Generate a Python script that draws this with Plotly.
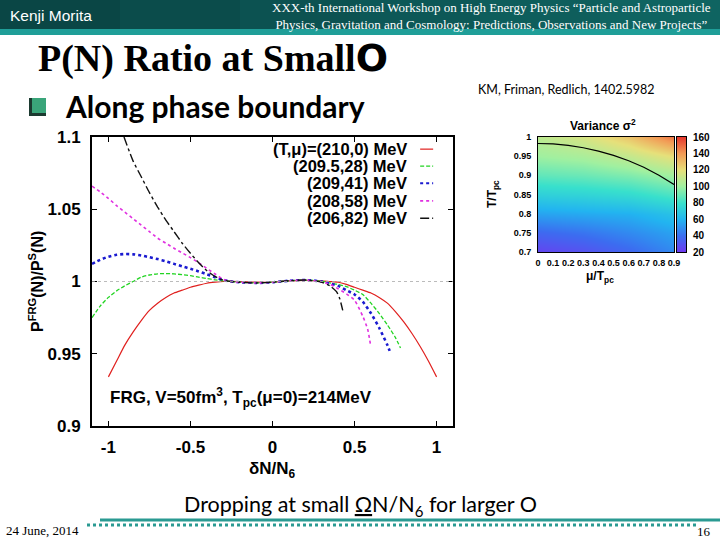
import plotly.graph_objects as go

# ---------------- data: main chart ----------------
red_x = [-1.0, -0.95, -0.9, -0.85, -0.8, -0.75, -0.7, -0.65, -0.6, -0.55, -0.5, -0.45, -0.4, -0.35, -0.3,
         -0.2, -0.1, 0.0, 0.1, 0.2, 0.3, 0.35, 0.4, 0.45, 0.5, 0.55, 0.6, 0.65, 0.7, 0.75, 0.8, 0.85, 0.9, 0.95, 1.0]
red_y = [0.934, 0.945, 0.956, 0.965, 0.973, 0.980, 0.985, 0.989, 0.992, 0.994, 0.996, 0.9975, 0.9988, 0.9995, 1.0,
         1.0, 0.9995, 0.9995, 1.0005, 1.0008, 1.0005, 1.0, 0.9995, 0.998, 0.996, 0.994, 0.992, 0.989, 0.985, 0.979,
         0.972, 0.964, 0.955, 0.945, 0.934]

green_x = [-1.1, -1.05, -1.0, -0.95, -0.9, -0.85, -0.8, -0.75, -0.7, -0.65, -0.6, -0.55, -0.5, -0.45, -0.4, -0.35,
           -0.3, -0.25, -0.2, -0.1, 0.0, 0.1, 0.2, 0.3, 0.35, 0.4, 0.45, 0.5, 0.55, 0.6, 0.65, 0.7, 0.75, 0.78]
green_y = [0.975, 0.983, 0.989, 0.9935, 0.997, 1.0, 1.003, 1.0045, 1.0053, 1.0055, 1.0053, 1.0047, 1.004, 1.003,
           1.002, 1.0012, 1.0005, 1.0, 0.9995, 0.999, 0.9995, 1.0005, 1.001, 1.0003, 0.999, 0.998, 0.9965, 0.994,
           0.991, 0.985, 0.978, 0.970, 0.961, 0.954]

blue_x = [-1.1, -1.05, -1.0, -0.95, -0.9, -0.85, -0.8, -0.75, -0.7, -0.65, -0.6, -0.55, -0.5, -0.45, -0.4, -0.35,
          -0.3, -0.25, -0.2, -0.1, 0.0, 0.1, 0.2, 0.3, 0.35, 0.4, 0.45, 0.5, 0.55, 0.6, 0.65, 0.7, 0.714]
blue_y = [1.0122, 1.015, 1.0172, 1.0185, 1.019, 1.0188, 1.018, 1.0168, 1.0155, 1.014, 1.0122, 1.0105, 1.0088,
          1.007, 1.005, 1.003, 1.001, 1.0, 0.9995, 0.999, 0.9995, 1.0005, 1.001, 1.0, 0.9985, 0.997, 0.994, 0.991,
          0.986, 0.978, 0.968, 0.956, 0.952]

magenta_x = [-1.1, -1.05, -1.0, -0.95, -0.9, -0.85, -0.8, -0.75, -0.7, -0.65, -0.6, -0.55, -0.5, -0.45, -0.4,
             -0.35, -0.3, -0.25, -0.2, -0.1, 0.0, 0.1, 0.2, 0.3, 0.35, 0.4, 0.45, 0.5, 0.55, 0.58, 0.596]
magenta_y = [1.066, 1.062, 1.0575, 1.0525, 1.048, 1.0435, 1.039, 1.0345, 1.030, 1.0265, 1.023, 1.0198, 1.0165,
             1.013, 1.009, 1.0052, 1.0015, 1.0, 0.9995, 0.999, 0.9995, 1.0005, 1.001, 0.9998, 0.998, 0.995, 0.9915,
             0.987, 0.976, 0.967, 0.957]

black_x = [-0.905, -0.85, -0.8, -0.75, -0.7, -0.65, -0.6, -0.55, -0.5, -0.45, -0.4, -0.35, -0.3, -0.25, -0.2,
           -0.1, 0.0, 0.1, 0.2, 0.3, 0.35, 0.39, 0.41, 0.428]
black_y = [1.1, 1.0835, 1.0725, 1.0615, 1.0515, 1.0425, 1.0345, 1.0265, 1.0195, 1.013, 1.0075, 1.0035, 1.001,
           1.0, 0.9995, 0.999, 0.9995, 1.0005, 1.001, 0.9995, 0.997, 0.993, 0.988, 0.980]

series_labels = ["(T,\u03bc)=(210,0) MeV", "(209.5,28) MeV", "(209,41) MeV", "(208,58) MeV", "(206,82) MeV"]

x_tickvals = [-1, -0.5, 0, 0.5, 1]
x_ticktext = ["-1", "-0.5", "0", "0.5", "1"]
y_tickvals = [0.9, 0.95, 1.0, 1.05, 1.1]
y_ticktext = ["0.9", "0.95", "1", "1.05", "1.1"]

# ---------------- data: inset heatmap ----------------
mu_grid = [0.0, 0.3, 0.6, 0.9]
t_grid = [0.70, 0.75, 0.80, 0.85, 0.90, 0.95, 1.00]
variance = [
    [25, 30, 38, 48],
    [38, 42, 48, 55],
    [55, 57, 59, 66],
    [72, 74, 77, 84],
    [88, 90, 94, 101],
    [100, 103, 110, 121],
    [108, 115, 128, 148],
]
boundary_mu = [0.0, 0.1, 0.2, 0.3, 0.4, 0.5, 0.6, 0.7, 0.8, 0.9]
boundary_t = [0.983, 0.982, 0.978, 0.972, 0.963, 0.952, 0.938, 0.921, 0.900, 0.876]
inset_xticks = [0, 0.1, 0.2, 0.3, 0.4, 0.5, 0.6, 0.7, 0.8, 0.9]
inset_yticks = [0.7, 0.75, 0.8, 0.85, 0.9, 0.95, 1.0]
inset_yticktext = ["0.7", "0.75", "0.8", "0.85", "0.9", "0.95", "1"]
cbar_levels = [20, 40, 60, 80, 100, 120, 140, 160]

# ---------------- styles ----------------
SANS = "Liberation Sans, Arial, sans-serif"
SERIF = "Liberation Serif, Times New Roman, serif"
CAL = "Lato, Open Sans, sans-serif"
styles = [
    dict(color="#e0201e", width=1.2, dash="solid"),
    dict(color="#22d422", width=1.3, dash="4px,2px"),
    dict(color="#1a1ad0", width=2.6, dash="dot"),
    dict(color="#e030e0", width=1.6, dash="dot"),
    dict(color="#111111", width=1.4, dash="dashdot"),
]
rainbow = [[0.0, "#7038f0"], [1 / 7, "#3c6cf0"], [2 / 7, "#22b4f0"], [3 / 7, "#38e0cc"],
           [4 / 7, "#a0f0a0"], [5 / 7, "#e6e07a"], [6 / 7, "#f29a55"], [1.0, "#e63a2e"]]

fig = go.Figure()
for (xs, ys), st, lab in zip([(red_x, red_y), (green_x, green_y), (blue_x, blue_y),
                              (magenta_x, magenta_y), (black_x, black_y)], styles, series_labels):
    fig.add_trace(go.Scatter(x=xs, y=ys, mode="lines", line=dict(shape="spline", smoothing=0.6, **st),
                             name=lab, showlegend=False, xaxis="x", yaxis="y"))

# inset heatmap
fig.add_trace(go.Heatmap(x=mu_grid, y=t_grid, z=variance, zsmooth="best", zmin=20, zmax=160,
                         xaxis="x2", yaxis="y2", colorscale=rainbow, showscale=False))
fig.add_trace(go.Scatter(x=boundary_mu, y=boundary_t, mode="lines", line=dict(color="black", width=1.2),
                         showlegend=False, xaxis="x2", yaxis="y2"))
# colour bar drawn as its own small heatmap
fig.add_trace(go.Heatmap(x=[0], y=cbar_levels, z=[[v] for v in cbar_levels], zsmooth="best", zmin=20,
                         zmax=160, xaxis="x3", yaxis="y3", colorscale=rainbow, showscale=False))

X0, X1 = 92 / 720, 453 / 720
Y0, Y1 = 1 - 426 / 540, 1 - 137 / 540
IY0, IY1 = 1 - 252 / 540, 1 - 137 / 540

fig.update_layout(
    width=720, height=540, margin=dict(l=0, r=0, t=0, b=0, autoexpand=False),
    paper_bgcolor="white", plot_bgcolor="white", showlegend=False,
    xaxis=dict(domain=[X0, X1], range=[-1.1, 1.1], tickvals=x_tickvals, ticktext=x_ticktext,
               ticks="inside", ticklen=5, tickcolor="black", mirror="ticks", showline=True,
               linecolor="black", linewidth=2, showgrid=False, zeroline=False, ticklabelstandoff=5,
               tickfont=dict(family=SANS, size=17, color="black", weight="bold")),
    yaxis=dict(domain=[Y0, Y1], range=[0.9, 1.1], tickvals=y_tickvals, ticktext=y_ticktext,
               ticks="inside", ticklen=5, tickcolor="black", mirror="ticks", showline=True,
               linecolor="black", linewidth=2, showgrid=False, zeroline=False, ticklabelstandoff=6,
               tickfont=dict(family=SANS, size=17, color="black", weight="bold")),
    xaxis2=dict(domain=[538 / 720, 674 / 720], range=[0, 0.9], anchor="y2", tickvals=inset_xticks,
                ticks="", showline=True, linecolor="black", linewidth=1, mirror=True, showgrid=False,
                zeroline=False, ticklabelstandoff=2,
                tickfont=dict(family=SANS, size=9, color="black", weight="bold")),
    yaxis2=dict(domain=[IY0, IY1], range=[0.7, 1.0], anchor="x2", tickvals=inset_yticks,
                ticktext=inset_yticktext, ticks="", showline=True, linecolor="black", linewidth=1,
                mirror=True, showgrid=False, zeroline=False, ticklabelstandoff=4,
                tickfont=dict(family=SANS, size=9, color="black", weight="bold")),
    xaxis3=dict(domain=[677 / 720, 686 / 720], range=[-0.5, 0.5], anchor="y3", showticklabels=False,
                ticks="", showline=True, linecolor="black", linewidth=1, mirror=True, showgrid=False,
                zeroline=False),
    yaxis3=dict(domain=[IY0, IY1], range=[20, 160], anchor="x3", side="right", tickvals=cbar_levels,
                ticks="", showline=True, linecolor="black", linewidth=1, mirror=True, showgrid=False,
                zeroline=False, ticklabelstandoff=4,
                tickfont=dict(family=SANS, size=10, color="black", weight="bold")),
)

# reference line at 1
fig.add_hline(y=1.0, line=dict(color="#aaaaaa", width=0.8, dash="dot"), xref="x", yref="y")

shapes = []
ann = []

# custom legend (text right, sample right)
legend_rows = [0.958, 0.899, 0.840, 0.779, 0.719]
for lab, st, ry in zip(series_labels, styles, legend_rows):
    ann.append(dict(text=lab, xref="x domain", yref="y domain", x=0.877, y=ry, xanchor="right",
                    yanchor="middle", showarrow=False,
                    font=dict(family=SANS, size=16.5, color="black", weight="bold")))
    shapes.append(dict(type="line", xref="x domain", yref="y domain", x0=0.909, x1=0.945, y0=ry, y1=ry,
                       line=dict(color=st["color"], width=min(st["width"], 2), dash=st["dash"])))

ann.append(dict(text="FRG, V=50fm<sup>3</sup>, T<sub>pc</sub>(\u03bc=0)=214MeV", xref="x domain", yref="y domain",
                x=0.044, y=0.10, xanchor="left", yanchor="middle", showarrow=False,
                font=dict(family=SANS, size=17, color="black", weight="bold")))
ann.append(dict(text="P<sup>FRG</sup>(N)/P<sup>S</sup>(N)", xref="paper", yref="paper", x=36 / 720,
                y=1 - 282 / 540, textangle=-90, xanchor="center", yanchor="middle", showarrow=False,
                font=dict(family=SANS, size=16, color="black", weight="bold")))
ann.append(dict(text="\u03b4N/N<sub>6</sub>", xref="paper", yref="paper", x=272 / 720, y=1 - 470 / 540,
                xanchor="center", yanchor="middle", showarrow=False,
                font=dict(family=SANS, size=17, color="black", weight="bold")))

# inset labels
ann.append(dict(text="Variance \u03c3<sup>2</sup>", xref="paper", yref="paper", x=603 / 720, y=1 - 125 / 540,
                xanchor="center", yanchor="middle", showarrow=False,
                font=dict(family=SANS, size=12, color="black", weight="bold")))
ann.append(dict(text="\u03bc/T<sub>pc</sub>", xref="paper", yref="paper", x=600 / 720, y=1 - 277 / 540,
                xanchor="center", yanchor="middle", showarrow=False,
                font=dict(family=SANS, size=12, color="black", weight="bold")))
ann.append(dict(text="T/T<sub>pc</sub>", xref="paper", yref="paper", x=493 / 720, y=1 - 194 / 540,
                textangle=-90, xanchor="center", yanchor="middle", showarrow=False,
                font=dict(family=SANS, size=12, color="black", weight="bold")))
ann.append(dict(text="KM, Friman, Redlich, 1402.5982", xref="paper", yref="paper", x=476 / 720,
                y=1 - 90 / 540, xanchor="left", yanchor="middle", showarrow=False,
                font=dict(family=CAL, size=12.5, color="black")))

# slide header
header_cols = ["#0a4645", "#0b4c4b", "#0c5251", "#0d5857", "#0e5e5c", "#0f6461"]
for i, c in enumerate(header_cols):
    shapes.append(dict(type="rect", xref="paper", yref="paper", x0=i / 6, x1=(i + 1) / 6 + 0.002,
                       y0=1 - 29 / 540, y1=1, fillcolor=c, line=dict(width=0), layer="below"))
shapes.append(dict(type="rect", xref="paper", yref="paper", x0=0, x1=1, y0=1 - 35 / 540, y1=1 - 29 / 540,
                   fillcolor="#1f9e98", line=dict(width=0), layer="below"))
ann.append(dict(text="Kenji Morita", xref="paper", yref="paper", x=8 / 720, y=1 - 15 / 540, xanchor="left",
                yanchor="middle", showarrow=False, font=dict(family=SANS, size=15.5, color="white")))
ann.append(dict(text="XXX-th International Workshop on High Energy Physics \u201cParticle and Astroparticle<br>"
                     "Physics, Gravitation and Cosmology: Predictions, Observations and New Projects\u201d",
                xref="paper", yref="paper", x=491 / 720, y=1 - 16 / 540, xanchor="center", yanchor="middle",
                align="center", showarrow=False,
                font=dict(family=SERIF, size=13, color="white")))
ann.append(dict(text="P(N) Ratio at Small<span style='font-family:DejaVu Sans'>O</span>", xref="paper",
                yref="paper", x=36 / 720, y=1 - 58 / 540, xanchor="left", yanchor="middle", showarrow=False,
                font=dict(family=SERIF, size=38, color="black", weight="bold")))
# bullet
shapes.append(dict(type="rect", xref="paper", yref="paper", x0=29 / 720, x1=46 / 720, y0=1 - 116 / 540,
                   y1=1 - 98 / 540, fillcolor="#1c3a30", line=dict(width=0)))
shapes.append(dict(type="rect", xref="paper", yref="paper", x0=32 / 720, x1=46 / 720, y0=1 - 113 / 540,
                   y1=1 - 98 / 540, fillcolor="#3aa57a", line=dict(width=0)))
ann.append(dict(text="Along phase boundary", xref="paper", yref="paper", x=63 / 720, y=1 - 106 / 540,
                xanchor="left", yanchor="middle", showarrow=False,
                font=dict(family=CAL, size=30, color="black", weight="bold")))

# bottom text and footer
ann.append(dict(text="Dropping at small <u>\u03a9</u>N/N<sub>6</sub> for larger O", xref="paper", yref="paper",
                x=360 / 720, y=1 - 505 / 540, xanchor="center", yanchor="middle", showarrow=False,
                font=dict(family=CAL, size=21.5, color="black")))
shapes.append(dict(type="line", xref="paper", yref="paper", x0=100 / 720, x1=1, y0=1 - 520 / 540,
                   y1=1 - 520 / 540, line=dict(color="#2a9a92", width=3)))
shapes.append(dict(type="line", xref="paper", yref="paper", x0=87 / 720, x1=697 / 720, y0=1 - 525 / 540,
                   y1=1 - 525 / 540, line=dict(color="#2a9a92", width=3, dash="dot")))
ann.append(dict(text="24 June, 2014", xref="paper", yref="paper", x=4 / 720, y=1 - 530 / 540, xanchor="left",
                yanchor="middle", showarrow=False, font=dict(family=SERIF, size=13, color="black")))
ann.append(dict(text="16", xref="paper", yref="paper", x=713 / 720, y=1 - 531 / 540, xanchor="right",
                yanchor="middle", showarrow=False, font=dict(family=SERIF, size=13, color="black")))

fig.update_layout(shapes=list(fig.layout.shapes) + shapes, annotations=ann)
fig.write_html("out.html", config={"displayModeBar": False},
               post_script="document.body.style.margin='0';document.body.style.overflow='hidden';")
